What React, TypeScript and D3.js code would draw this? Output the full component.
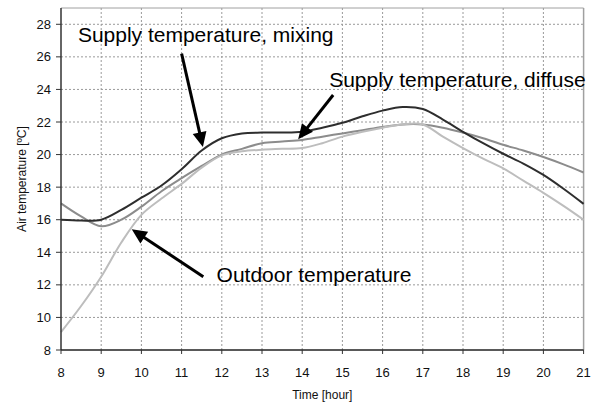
import React from "react";
import * as d3 from "d3";

const hours = [8, 8.5, 9, 9.5, 10, 10.5, 11, 11.5, 12, 12.5, 13, 13.5, 14, 14.5, 15, 15.5, 16, 16.5, 17, 17.5, 18, 18.5, 19, 19.5, 20, 20.5, 21];
const mixing = [16.0, 15.95, 16.0, 16.6, 17.35, 18.1, 19.1, 20.25, 21.0, 21.3, 21.35, 21.35, 21.4, 21.65, 21.95, 22.35, 22.7, 22.92, 22.8, 22.15, 21.4, 20.7, 20.05, 19.45, 18.75, 17.9, 16.97];
const diffuse = [17.0, 16.2, 15.6, 16.0, 16.8, 17.75, 18.55, 19.3, 20.0, 20.35, 20.7, 20.8, 20.9, 21.1, 21.3, 21.5, 21.7, 21.85, 21.85, 21.65, 21.35, 21.0, 20.6, 20.25, 19.85, 19.4, 18.9];
const outdoor = [9.1, 10.7, 12.5, 14.6, 16.3, 17.3, 18.2, 19.2, 19.95, 20.2, 20.3, 20.35, 20.4, 20.7, 21.1, 21.4, 21.65, 21.85, 21.85, 21.1, 20.4, 19.75, 19.15, 18.4, 17.65, 16.85, 16.0];

const xTicks = [8, 9, 10, 11, 12, 13, 14, 15, 16, 17, 18, 19, 20, 21];
const yTicks = [8, 10, 12, 14, 16, 18, 20, 22, 24, 26, 28];

// annotations in data units: label, text anchor (h, v), arrow tail (h, v), arrow tip (h, v)
const annLabels = ["Supply temperature, mixing", "Supply temperature, diffuse", "Outdoor temperature"];
const annText = [[8.42, 26.91], [14.67, 24.15], [11.87, 12.18]];
const annTail = [[11.0, 26.2], [14.77, 23.66], [11.54, 12.5]];
const annTip = [[11.53, 20.46], [13.9, 20.94], [9.76, 15.41]];

const W = 597, H = 405;
const left = 61, right = 583.6, top = 8, bottom = 350;
const font = "'Liberation Sans', Arial, Helvetica, sans-serif";

export default function App() {
  const x = d3.scaleLinear().domain([8, 21]).range([left, right]);
  const y = d3.scaleLinear().domain([8, 29]).range([bottom, top]);
  const line = d3
    .line<number>()
    .x((_, i) => x(hours[i]))
    .y((d) => y(d))
    .curve(d3.curveCatmullRom.alpha(0.5));

  const series = [
    { data: diffuse, color: "#8c8c8c" },
    { data: outdoor, color: "#bdbdbd" },
    { data: mixing, color: "#2e2e2e" },
  ];

  const arrows = annTip.map((tip, i) => {
    const tx = x(tip[0]), ty = y(tip[1]);
    const sx = x(annTail[i][0]), sy = y(annTail[i][1]);
    const dx = tx - sx, dy = ty - sy;
    const len = Math.hypot(dx, dy);
    const ux = dx / len, uy = dy / len;
    const hl = 15, hw = 7;
    const bx = tx - ux * hl, by = ty - uy * hl;
    const p1 = [bx - uy * hw, by + ux * hw];
    const p2 = [bx + uy * hw, by - ux * hw];
    return { sx, sy, bx: tx - ux * (hl - 2), by: ty - uy * (hl - 2), pts: `${tx},${ty} ${p1[0]},${p1[1]} ${p2[0]},${p2[1]}` };
  });

  return (
    <svg width={W} height={H} style={{ position: "absolute", left: 0, top: 0, background: "#fff" }} fontFamily={font}>
      <rect x={0} y={0} width={W} height={H} fill="#fff" />
      {/* grid */}
      {yTicks.slice(1).map((t) => (
        <line key={"gy" + t} x1={left} x2={right} y1={y(t)} y2={y(t)} stroke="#9a9a9a" strokeWidth={1} strokeDasharray="2,2" />
      ))}
      {xTicks.slice(1, -1).map((t) => (
        <line key={"gx" + t} x1={x(t)} x2={x(t)} y1={top} y2={bottom} stroke="#9a9a9a" strokeWidth={1} strokeDasharray="2,2" />
      ))}
      {/* frame */}
      <line x1={left} x2={right} y1={top} y2={top} stroke="#a0a0a0" strokeWidth={1} />
      <line x1={right} x2={right} y1={top} y2={bottom} stroke="#a0a0a0" strokeWidth={1.5} />
      {/* series */}
      {series.map((s, i) => (
        <path key={i} d={line(s.data) || ""} fill="none" stroke={s.color} strokeWidth={2} strokeLinejoin="round" />
      ))}
      {/* axes */}
      <line x1={left} x2={left} y1={top} y2={bottom} stroke="#333" strokeWidth={1.5} />
      <line x1={left} x2={right} y1={bottom} y2={bottom} stroke="#222" strokeWidth={1.5} />
      {yTicks.map((t) => (
        <g key={"yt" + t}>
          <line x1={left - 5} x2={left} y1={y(t)} y2={y(t)} stroke="#333" strokeWidth={1} />
          <text x={left - 10} y={y(t)} dy="0.35em" textAnchor="end" fontSize={13} fill="#111">
            {t}
          </text>
        </g>
      ))}
      {xTicks.map((t) => (
        <g key={"xt" + t}>
          <line x1={x(t)} x2={x(t)} y1={bottom} y2={bottom + 4} stroke="#333" strokeWidth={1} />
          <text x={x(t)} y={bottom + 27} textAnchor="middle" fontSize={13} fill="#111">
            {t}
          </text>
        </g>
      ))}
      <text x={(left + right) / 2} y={399} textAnchor="middle" fontSize={12} fill="#111">
        Time [hour]
      </text>
      <text transform={`translate(26,${(top + bottom) / 2}) rotate(-90)`} textAnchor="middle" fontSize={12} fill="#111">
        Air temperature [ºC]
      </text>
      {/* annotations */}
      {annLabels.map((l, i) => (
        <text key={"al" + i} x={x(annText[i][0])} y={y(annText[i][1])} fontSize={21} fill="#000">
          {l}
        </text>
      ))}
      {arrows.map((a, i) => (
        <g key={"ar" + i}>
          <line x1={a.sx} y1={a.sy} x2={a.bx} y2={a.by} stroke="#000" strokeWidth={3} />
          <polygon points={a.pts} fill="#000" />
        </g>
      ))}
    </svg>
  );
}
